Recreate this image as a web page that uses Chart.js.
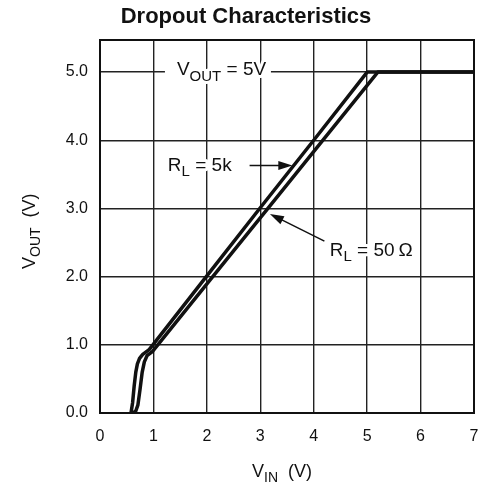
<!DOCTYPE html>
<html>
<head>
<meta charset="utf-8">
<script src="https://cdn.jsdelivr.net/npm/chart.js@4"></script>
<style>
  html, body { margin: 0; padding: 0; background: #fff; }
  #wrap { width: 487px; height: 500px; }
</style>
</head>
<body>
<div id="wrap"><canvas id="myChart" width="487" height="500"></canvas></div>
<script>
// V_IN / V_OUT readings for each load
var vin5k   = [0.58, 0.61, 0.64, 0.67, 0.70, 0.74, 0.80, 0.92, 2.0, 3.0, 4.0, 5.0, 7.0];
var vout5k  = [0.0, 0.15, 0.40, 0.60, 0.72, 0.80, 0.86, 0.93, 2.01, 3.01, 4.0, 5.0, 5.0];
var vin50   = [0.62, 0.67, 0.71, 0.75, 0.79, 0.83, 0.88, 0.98, 2.05, 3.12, 4.15, 5.2, 7.0];
var vout50  = [0.0, 0.03, 0.12, 0.35, 0.60, 0.75, 0.84, 0.90, 1.94, 2.98, 3.98, 5.0, 5.0];
var xTicks = [0, 1, 2, 3, 4, 5, 6, 7];
var yTicks = [0, 1, 2, 3, 4, 5];

function pts(xs, ys) {
  return xs.map(function (x, i) { return { x: x, y: ys[i] }; });
}

var font = "'Liberation Sans', Arial, sans-serif";
var ink = '#111';

// text with a thin white halo so grid lines break around the glyphs
function halo(c, txt, x, y) {
  c.strokeStyle = '#fff';
  c.lineWidth = 6;
  c.lineJoin = 'round';
  c.strokeText(txt, x, y);
  c.fillStyle = ink;
  c.fillText(txt, x, y);
}

function subText(c, x, y, main, sub, size, rest) {
  c.textAlign = 'left';
  c.textBaseline = 'middle';
  c.font = size + 'px ' + font;
  var w1 = c.measureText(main).width;
  halo(c, main, x, y);
  c.font = Math.round(size * 0.8) + 'px ' + font;
  var w2 = c.measureText(sub).width;
  halo(c, sub, x + w1, y + size * 0.35);
  if (rest) {
    c.font = size + 'px ' + font;
    halo(c, rest, x + w1 + w2, y);
  }
}

function arrow(c, x1, y1, x2, y2) {
  var a = Math.atan2(y2 - y1, x2 - x1);
  c.beginPath();
  c.moveTo(x1, y1);
  c.lineTo(x2 - 10 * Math.cos(a), y2 - 10 * Math.sin(a));
  c.lineWidth = 1.5;
  c.strokeStyle = ink;
  c.stroke();
  c.beginPath();
  c.moveTo(x2, y2);
  c.lineTo(x2 - 14 * Math.cos(a) + 4.5 * Math.sin(a), y2 - 14 * Math.sin(a) - 4.5 * Math.cos(a));
  c.lineTo(x2 - 14 * Math.cos(a) - 4.5 * Math.sin(a), y2 - 14 * Math.sin(a) + 4.5 * Math.cos(a));
  c.closePath();
  c.fillStyle = ink;
  c.fill();
}

var labels = {
  id: 'labels',
  afterDatasetsDraw: function (chart) {
    var c = chart.ctx, xs = chart.scales.x, ys = chart.scales.y;
    c.save();
    c.fillStyle = ink;
    // title
    c.font = 'bold 22px ' + font;
    c.textAlign = 'center';
    c.textBaseline = 'middle';
    c.fillText('Dropout Characteristics', 246, 17);

    // V_OUT = 5V (sits on the 5.0 grid line, which is broken round it)
    var px = xs.getPixelForValue(1.44), py = ys.getPixelForValue(5.0);
    c.fillStyle = '#fff';
    c.fillRect(px - 12, py - 3, 106, 6);
    subText(c, px, py - 2, 'V', 'OUT', 19, ' = 5V');

    // R_L = 5k
    px = xs.getPixelForValue(1.27); py = ys.getPixelForValue(3.63);
    subText(c, px, py, 'R', 'L', 19, ' = 5k');
    arrow(c, xs.getPixelForValue(2.8), py, xs.getPixelForValue(3.6), py);

    // R_L = 50 ohm
    px = xs.getPixelForValue(4.3); py = ys.getPixelForValue(2.38);
    subText(c, px, py, 'R', 'L', 19, ' = 50\u2009\u03A9');
    arrow(c, xs.getPixelForValue(4.2), ys.getPixelForValue(2.52), xs.getPixelForValue(3.18), ys.getPixelForValue(2.92));

    // axis titles
    subText(c, 252, 472, 'V', 'IN', 18, '  (V)');
    c.translate(30, 225);
    c.rotate(-Math.PI / 2);
    subText(c, -44, 0, 'V', 'OUT', 18, '  (V)');
    c.restore();
  }
};

var ctx = document.getElementById('myChart');
var myChart = new Chart(ctx, {
  type: 'line',
  data: {
    datasets: [
      {
        label: 'RL = 5k',
        data: pts(vin5k, vout5k),
        borderColor: ink,
        borderWidth: 3.5,
        pointRadius: 0,
        tension: 0,
        borderJoinStyle: 'round',
        fill: false
      },
      {
        label: 'RL = 50 ohm',
        data: pts(vin50, vout50),
        borderColor: ink,
        borderWidth: 3.5,
        pointRadius: 0,
        tension: 0,
        borderJoinStyle: 'round',
        fill: false
      }
    ]
  },
  options: {
    responsive: false,
    animation: false,
    layout: { padding: { top: 40, right: 13, left: 0, bottom: 0 } },
    plugins: { legend: { display: false }, title: { display: false }, tooltip: { enabled: false } },
    scales: {
      x: {
        type: 'linear',
        min: 0, max: 7,
        afterFit: function (s) { s.height = 87; s.paddingLeft = 0; s.paddingRight = 0; },
        afterBuildTicks: function (s) { s.ticks = xTicks.map(function (v) { return { value: v }; }); },
        ticks: { color: ink, padding: 14, font: { family: font, size: 16 } },
        grid: { color: '#222', lineWidth: 1.4, drawTicks: false },
        border: { color: '#111', width: 2 }
      },
      y: {
        type: 'linear',
        min: 0, max: 5.47,
        afterFit: function (s) { s.width = 100; s.paddingTop = 0; s.paddingBottom = 0; },
        afterBuildTicks: function (s) {
          s.ticks = yTicks.map(function (v) { return { value: v }; });
        },
        ticks: { color: ink, padding: 12, font: { family: font, size: 16 },
                 callback: function (v) { return v.toFixed(1); } },
        grid: { color: '#222', lineWidth: 1.4, drawTicks: false },
        border: { color: '#111', width: 2 }
      }
    }
  },
  plugins: [labels, {
    id: 'box',
    afterDraw: function (chart) {
      var a = chart.chartArea, c = chart.ctx;
      c.save();
      c.strokeStyle = '#111';
      c.lineWidth = 2;
      c.strokeRect(a.left, a.top, a.right - a.left, a.bottom - a.top);
      c.restore();
    }
  }]
});
</script>
</body>
</html>
